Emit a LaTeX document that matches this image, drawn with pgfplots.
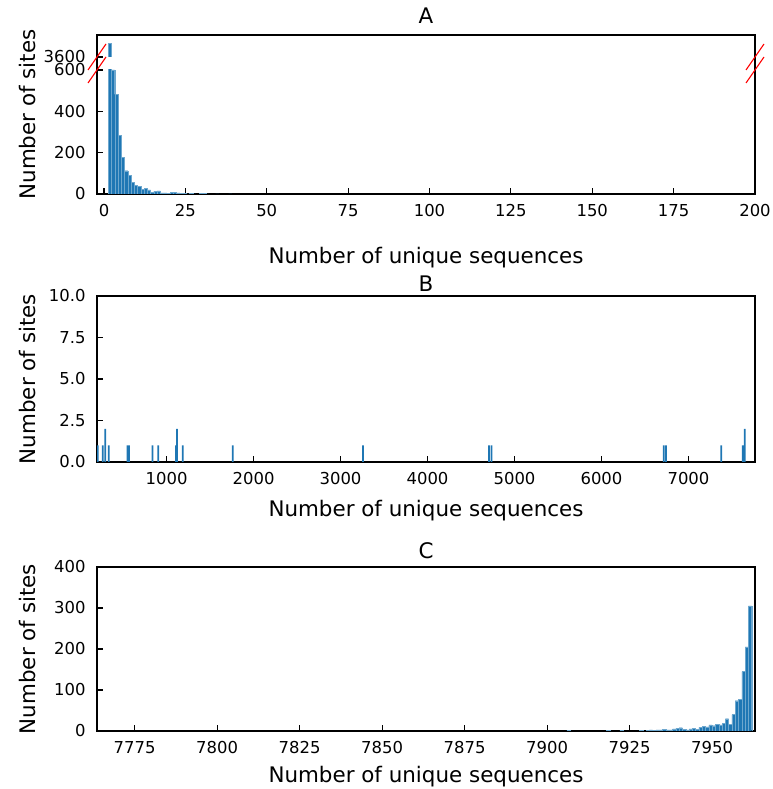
\documentclass[border=0pt]{standalone}
\usepackage{pgfplots}
\pgfplotsset{compat=1.18}
\usepackage{fontspec}
\setmainfont{DejaVu Sans}
\definecolor{tabblue}{RGB}{31,119,180}
\newcommand{\ticksize}{\fontsize{16.5}{19}\selectfont}
\newcommand{\labsize}{\fontsize{21.5}{26}\selectfont}
\pgfplotsset{
  base/.style={
    scale only axis, width=658bp,
    axis line style={line width=1.1bp},
    tick align=inside, xtick pos=left, ytick pos=left,
    major tick length=6bp,
    tick style={line width=1.1bp, black},
    tick label style={font=\ticksize, /pgf/number format/assume math mode=true, /pgf/number format/1000 sep={}},
    xticklabel style={yshift=-7bp},
    yticklabel style={xshift=-8bp},
    label style={font=\labsize},
    title style={font=\labsize, anchor=center},
    ylabel style={at={(axis description cs:-0.105,0.5)}, anchor=center},
  },
  barA/.style={ybar, bar width=1, bar shift=0, fill=tabblue, draw=tabblue!65!white, line width=0.25bp},
}
\begin{document}
\begin{tikzpicture}
\useasboundingbox (0,0) rectangle (773bp,789bp);
% ---------- Panel A frame ----------
\begin{axis}[base, at={(97bp,595bp)}, anchor=south west, height=159bp,
  xmin=-2.15, xmax=200, ymin=0, ymax=1, ytick=\empty,
  xtick={0,25,...,200},
  title={A}, title style={at={(axis description cs:0.5,1.082)}},
  xlabel={Number of unique sequences},
  xlabel style={at={(axis description cs:0.5,-0.40)}, anchor=center},
  ylabel={Number of sites}]
\end{axis}
% ---------- Panel A lower part ----------
\begin{axis}[base, at={(97bp,595bp)}, anchor=south west, height=124bp,
  xmin=-2.15, xmax=200, ymin=0, ymax=600,
  hide x axis, axis line style={draw=none},
  ytick={0,200,400,600}]
\addplot[barA] coordinates {
(1.8,3668) (2.8,600) (3.8,482) (4.8,284) (5.8,178) (6.8,113) (7.8,89) (8.8,57)
(9.8,41) (10.8,37) (11.8,22) (12.8,28) (13.8,20) (14.8,9) (15.8,14) (16.8,15)
(17.8,6) (18.8,5) (19.8,4) (20.8,7) (21.8,8) (22.8,6) (23.8,2) (24.8,3)
(25.8,1) (26.8,2) (27.8,1) (29.8,2) (30.8,3) (31.8,1) (34.8,1) (38.8,1)
};
\end{axis}
% ---------- Panel A upper part ----------
\begin{axis}[base, at={(97bp,732bp)}, anchor=south west, height=22bp,
  xmin=-2.15, xmax=200, ymin=3600, ymax=3706,
  hide x axis, axis line style={draw=none},
  ytick={3600}]
\addplot[barA] coordinates {(1.8,3668)};
\end{axis}
% break marks
\draw[red, line width=1.1bp] (88bp,719bp) -- (106bp,745bp);
\draw[red, line width=1.1bp] (88bp,706bp) -- (106bp,732bp);
\draw[red, line width=1.1bp] (746bp,719bp) -- (764bp,745bp);
\draw[red, line width=1.1bp] (746bp,706bp) -- (764bp,732bp);
% ---------- Panel B ----------
\begin{axis}[base, at={(97bp,327bp)}, anchor=south west, height=166bp,
  xmin=200, xmax=7765, ymin=0, ymax=10,
  xtick={1000,2000,...,7000},
  ytick={0,2.5,5,7.5,10},
  yticklabel style={/pgf/number format/.cd, fixed, fixed zerofill, precision=1},
  title={B}, title style={at={(axis description cs:0.5,1.04)}},
  xlabel={Number of unique sequences},
  xlabel style={at={(axis description cs:0.5,-0.29)}, anchor=center},
  ylabel={Number of sites}]
\addplot[ybar, bar width=20, bar shift=0, fill=tabblue, draw=none] coordinates {
(210,1) (266,1) (295,2) (336,1) (550,1) (568,1) (838,1) (905,1)
(1108,1) (1120,2) (1187,1) (1762,1) (3258,1) (4708,1) (4735,1)
(6716,1) (6741,1) (7376,1) (7625,1) (7648,2)
};
\end{axis}
% ---------- Panel C ----------
\begin{axis}[base, at={(97bp,58bp)}, anchor=south west, height=164bp,
  xmin=7763.6, xmax=7963, ymin=0, ymax=400,
  xtick={7775,7800,...,7950},
  ytick={0,100,...,400},
  title={C}, title style={at={(axis description cs:0.5,1.062)}},
  xlabel={Number of unique sequences},
  xlabel style={at={(axis description cs:0.5,-0.28)}, anchor=center},
  ylabel={Number of sites}]
\addplot[barA] coordinates {
(7906.5,2) (7918.5,1) (7922.5,1) (7928.5,1) (7930.5,2) (7931.5,3) (7932.5,2)
(7933.5,3) (7934.5,3) (7935.5,4) (7936.5,3) (7937.5,3) (7938.5,5) (7939.5,6)
(7940.5,8) (7941.5,4) (7942.5,3) (7943.5,5) (7944.5,7) (7945.5,4) (7946.5,9)
(7947.5,12) (7948.5,10) (7949.5,15) (7950.5,13) (7951.5,16) (7952.5,15)
(7953.5,18) (7954.5,30) (7955.5,17) (7956.5,40) (7957.5,74) (7958.5,78)
(7959.5,145) (7960.5,205) (7961.5,305)
};
\end{axis}
\end{tikzpicture}
\end{document}
